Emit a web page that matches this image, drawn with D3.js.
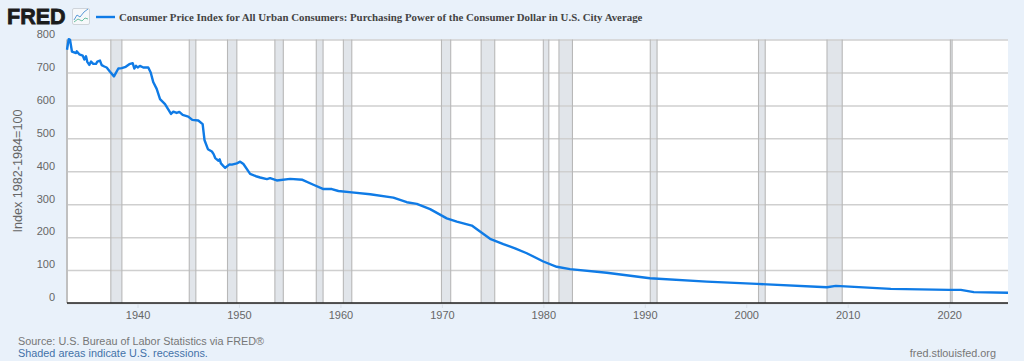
<!DOCTYPE html>
<html><head><meta charset="utf-8">
<script src="https://cdnjs.cloudflare.com/ajax/libs/d3/7.8.5/d3.min.js"></script>
<style>html,body{margin:0;padding:0;background:#e9f1fa}svg{display:block}text{font-family:"Liberation Sans",Arial,sans-serif}</style>
</head><body><svg id="c" width="1024" height="361"></svg>
<script>
const titleText = "Consumer Price Index for All Urban Consumers: Purchasing Power of the Consumer Dollar in U.S. City Average";
const yLabel = "Index 1982-1984=100";
const yTicks = [0,100,200,300,400,500,600,700,800];
const xTicks = [1940,1950,1960,1970,1980,1990,2000,2010,2020];
const years = [1933.05,1933.22,1933.35,1933.54,1933.94,1934.01,1934.26,1934.6,1934.76,1934.92,1935.05,1935.25,1935.42,1935.64,1935.91,1936.04,1936.3,1936.47,1936.73,1936.96,1937.29,1937.68,1938.11,1938.44,1938.84,1939.19,1939.53,1939.68,1939.85,1940.02,1940.24,1940.57,1941.06,1941.3,1941.56,1941.89,1942.22,1942.71,1943.3,1943.53,1943.86,1944.12,1944.45,1945.0,1945.4,1945.99,1946.42,1946.6,1946.94,1947.33,1947.5,1947.66,1947.98,1948.1,1948.22,1948.64,1949.06,1949.3,1949.79,1950.12,1950.44,1951.1,1951.76,1952.09,1952.75,1953.07,1953.73,1955.04,1956.26,1957.34,1958.33,1959.15,1959.8,1961.12,1962.93,1965.22,1966.54,1967.53,1968.84,1970.48,1971.47,1972.95,1973.76,1974.75,1976.06,1977.21,1978.37,1980,1981.32,1982.63,1986.25,1990.51,1996.1,2001.05,2007.95,2008.83,2014.25,2019.97,2021.15,2022.43,2025.8];
const values = [769,801,799,763,759,764,755,751,739,749,732,723,733,726,726,733,736,722,718,715,702,688,712,713,717,725,728,712,720,715,720,715,715,700,670,650,619,604,574,581,577,580,571,566,556,554,543,495,467,460,452,440,432,436,424,410,421,420,424,429,422,392,384,381,376,379,372,377,374,359,346,346,340,336,330,320,306,301,285,257,247,235,217,195,179,166,151,126,110,103,92,75,65,58,48,52,43,40,40,33,31];
const recessions = [[1937.37,1938.46],[1945.1,1945.75],[1948.87,1949.79],[1953.54,1954.37],[1957.62,1958.29],[1960.29,1961.12],[1969.96,1970.87],[1973.87,1975.21],[1980.0,1980.54],[1981.54,1982.87],[1990.54,1991.21],[2001.21,2001.87],[2007.96,2009.46],[2020.12,2020.29]];

const W=1024,H=361,L=67,R=1008,T=39.5,B=303;
const svg=d3.select("#c");
const x=d3.scaleLinear().domain([1933.05,2025.8]).range([L,R]);
const y=d3.scaleLinear().domain([0,800]).range([B,T]);
svg.append("rect").attr("width",W).attr("height",H).attr("fill","#e9f1fa");
svg.append("rect").attr("x",L).attr("y",T).attr("width",R-L).attr("height",B-T).attr("fill","#fff");
// recessions
const rg=svg.append("g").selectAll("g").data(recessions).join("g");
rg.append("rect").attr("x",d=>x(d[0])).attr("y",T).attr("width",d=>x(d[1])-x(d[0])).attr("height",B-T).attr("fill","#e1e5ea");
// grid
const yAxis=d3.axisLeft(y).tickValues(yTicks).tickSize(-(R-L)).tickPadding(0);
const gy=svg.append("g").attr("transform",`translate(${L},0)`).call(yAxis);
gy.select(".domain").remove();
gy.selectAll(".tick line").attr("stroke","#cfcfcf").attr("stroke-width",1.5);
gy.selectAll(".tick text").attr("x",-12).attr("dy","-0.2em").attr("fill","#666").style("font-size","11px");
rg.each(function(d){ d.forEach(v=>{
  svg.append("line").attr("x1",x(v)).attr("x2",x(v)).attr("y1",T).attr("y2",B).attr("stroke","#b8b8b8").attr("stroke-width",1.1);
});});
svg.append("line").attr("x1",L).attr("x2",L).attr("y1",T).attr("y2",B).attr("stroke","#c0c0c0").attr("stroke-width",2);
// x axis
const xAxis=d3.axisBottom(x).tickValues(xTicks).tickFormat(d3.format("d")).tickSize(5).tickPadding(3.5);
const gx=svg.append("g").attr("transform",`translate(0,${B})`).call(xAxis);
gx.select(".domain").remove();
gx.selectAll(".tick line").attr("stroke","#d8dfe8").attr("stroke-width",1);
gx.selectAll(".tick text").attr("fill","#666").style("font-size","11px");
// line
svg.append("path").datum(d3.zip(years,values)).attr("fill","none").attr("stroke","#0f7be6").attr("stroke-width",2.4).attr("stroke-linejoin","round")
 .attr("d",d3.line().x(d=>x(d[0])).y(d=>y(d[1])));
svg.append("line").attr("x1",L).attr("x2",R).attr("y1",B).attr("y2",B).attr("stroke","#222").attr("stroke-width",1.5);
// header
svg.append("text").attr("x",7).attr("y",24.3).attr("fill","#1c1c1c").attr("stroke","#1c1c1c").attr("stroke-width",.8).style("font-size","21.5px").style("font-weight","bold").text("FRED");
const ic=svg.append("g");
ic.append("rect").attr("x",72.5).attr("y",8.5).attr("width",17).attr("height",16).attr("rx",1.5).attr("fill","#f6f8fa").attr("stroke","#cfd4da");
const iconA=[[74,20],[77,15],[80,17],[84,12],[88,9]],iconB=[[74,22],[78,19],[82,21],[85,18],[88,19]];
const il=d3.line();
ic.append("path").attr("d",il(iconA)).attr("fill","none").attr("stroke","#5a9ad8").attr("stroke-width",1);
ic.append("path").attr("d",il(iconB)).attr("fill","none").attr("stroke","#6cc0a0").attr("stroke-width",1);
svg.append("line").attr("x1",96).attr("x2",115).attr("y1",17).attr("y2",17).attr("stroke","#0f7be6").attr("stroke-width",2.4);
svg.append("text").attr("x",119).attr("y",20.5).attr("fill","#444").style("font-family",'"Liberation Serif","Times New Roman",serif').style("font-weight","bold").style("font-size","10.87px").text(titleText);
svg.append("text").attr("transform","translate(21.5,171) rotate(-90)").attr("text-anchor","middle").attr("fill","#666").style("font-size","12.6px").text(yLabel);
svg.append("text").attr("x",18).attr("y",345).attr("fill","#777").style("font-size","10.85px").text("Source: U.S. Bureau of Labor Statistics via FRED®");
svg.append("text").attr("x",18).attr("y",357).attr("fill","#4472a8").style("font-size","10.85px").text("Shaded areas indicate U.S. recessions.");
svg.append("text").attr("x",996).attr("y",357).attr("text-anchor","end").attr("fill","#777").style("font-size","10.85px").text("fred.stlouisfed.org");
</script></body></html>
